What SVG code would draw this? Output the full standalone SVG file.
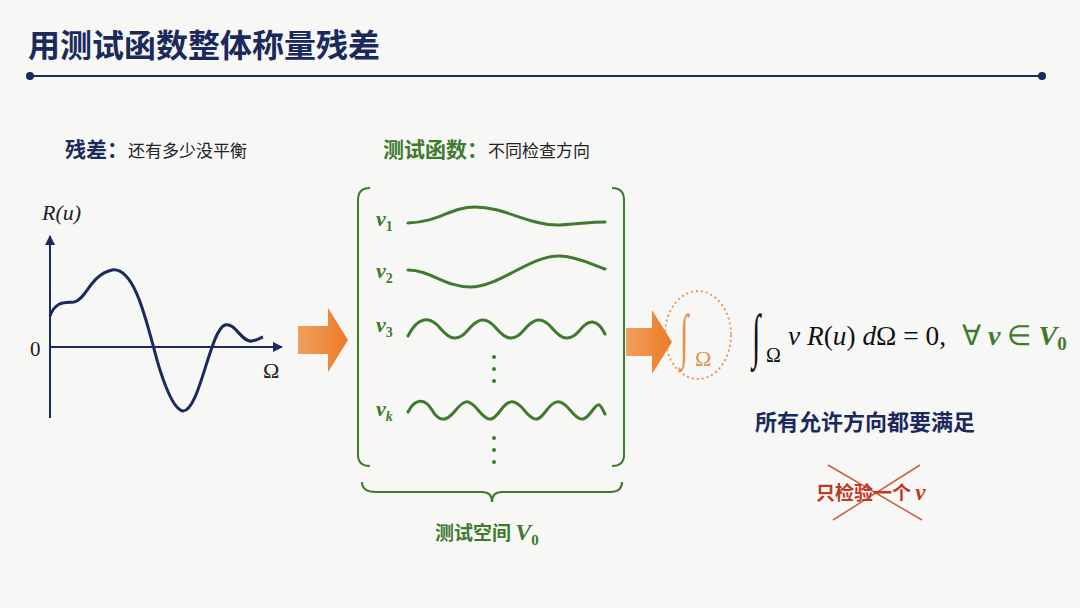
<svg xmlns="http://www.w3.org/2000/svg" width="1080" height="608" viewBox="0 0 1080 608">
<style>
.cn{font-family:"Noto Sans CJK SC","Noto Sans",sans-serif;font-weight:bold}
.m{font-family:"Liberation Serif",serif;font-style:italic}
.r{font-family:"Liberation Serif",serif}
.g{fill:#3f7a2e}
.w{fill:none;stroke:#3f7a2e;stroke-width:3;stroke-linecap:round}
.nv{fill:#1b2a5c}
</style>
<defs>
<marker id="ah" viewBox="0 0 10 10" refX="9" refY="5" markerWidth="5" markerHeight="5" orient="auto"><path d="M0,0L10,5L0,10z" fill="#1b2a5c"/></marker>
<linearGradient id="og" x1="0" x2="1"><stop offset="0" stop-color="#f0a060"/><stop offset="1" stop-color="#ec7a25"/></linearGradient>
</defs>
<rect width="1080" height="608" fill="#f7f7f6"/>
<g id="title">
<text x="28" y="57" class="cn nv" font-size="32">用测试函数整体称量残差</text>
<line x1="30" y1="76" x2="1042" y2="76" stroke="#1b2a5c" stroke-width="2"/>
<circle cx="30" cy="76" r="4" fill="#1b2a5c"/><circle cx="1042" cy="76" r="4" fill="#1b2a5c"/>
</g>
<g id="residual">
<text x="65" y="157" class="cn nv" font-size="21">残差：<tspan font-size="17" font-weight="normal" fill="#222">还有多少没平衡</tspan></text>
<text x="42" y="220" class="m" font-size="22" fill="#222">R(u)</text>
<line x1="50" y1="418" x2="50" y2="236" stroke="#1b2a5c" stroke-width="2" marker-end="url(#ah)"/>
<line x1="50" y1="347" x2="282" y2="347" stroke="#1b2a5c" stroke-width="2" marker-end="url(#ah)"/>
<text x="30" y="356" class="r" font-size="21" fill="#222">0</text>
<text x="263" y="378" class="r" font-size="22" fill="#222">Ω</text>
<path d="M50,316 C56,300 66,303 74,302 C86,300 90,275 112,270 C138,266 150,340 160,370 C168,395 176,410 183,411 C200,410 210,330 225,325 C235,322 242,343 252,341 C257,340 260,338 263,337" fill="none" stroke="#1b2a5c" stroke-width="3"/>
</g>
<path d="M298,326 h30 v-18 l20,32 l-20,32 v-18 h-30z" fill="url(#og)"/>
<g id="testfuncs">
<text x="383" y="157" class="cn g" font-size="21">测试函数：<tspan font-size="17" font-weight="normal" fill="#222">不同检查方向</tspan></text>
<path d="M370,188 Q358,188 358,200 V455 Q358,466 370,466" fill="none" stroke="#3f7a2e" stroke-width="2"/>
<path d="M612,188 Q624,188 624,200 V455 Q624,466 612,466" fill="none" stroke="#3f7a2e" stroke-width="2"/>
<text x="376" y="226" class="m g" font-size="22" font-weight="bold">v<tspan font-size="14" dy="5" font-style="normal">1</tspan></text>
<text x="376" y="278" class="m g" font-size="22" font-weight="bold">v<tspan font-size="14" dy="5" font-style="normal">2</tspan></text>
<text x="376" y="332" class="m g" font-size="22" font-weight="bold">v<tspan font-size="14" dy="5" font-style="normal">3</tspan></text>
<text x="376" y="416" class="m g" font-size="22" font-weight="bold">v<tspan font-size="14" dy="5" font-style="italic">k</tspan></text>
<path class="w" d="M408,223 C440,222 450,207 475,207 C505,207 530,226 560,225 C580,224 590,222 605,222"/>
<path class="w" d="M408,270 C430,270 445,287 470,287 C500,287 530,255 560,256 C580,257 595,266 605,269"/>
<path class="w" d="M408,336 C418,316 430,316 440,328 S458,342 468,330 S486,316 496,328 S514,342 524,330 S542,316 552,328 S570,342 580,330 S598,320 605,334"/>
<path class="w" d="M408,412 C415,398 425,398 432,410 S446,422 455,411 S468,398 478,410 S492,422 500,411 S514,398 524,410 S538,422 546,411 S560,398 570,410 S584,422 592,411 S600,405 605,414"/>
<g fill="#3f7a2e"><circle cx="494" cy="357" r="2"/><circle cx="494" cy="369" r="2"/><circle cx="494" cy="381" r="2"/><circle cx="494" cy="438" r="2"/><circle cx="494" cy="450" r="2"/><circle cx="494" cy="462" r="2"/></g>
<path d="M362,482 Q362,492 376,492 H482 Q492,492 492,502 Q492,492 502,492 H610 Q622,492 622,482" fill="none" stroke="#3f7a2e" stroke-width="2"/>
<text x="435" y="540" class="cn g" font-size="19">测试空间 <tspan class="m" font-size="24">V</tspan><tspan class="r" font-size="15" dy="5">0</tspan></text>
</g>
<path d="M626,328 h26 v-18 l20,32 l-20,32 v-18 h-26z" fill="url(#og)"/>
<g id="integral">
<ellipse cx="698" cy="335" rx="33" ry="44" fill="none" stroke="#e8904a" stroke-width="1.8" stroke-dasharray="2 3"/>
<text class="r" font-size="30" fill="#e8904a" transform="translate(680,356) scale(1,2)">∫</text>
<text x="695" y="366" class="r" font-size="22" fill="#e8904a">Ω</text>
</g>
<g id="formula">
<text class="r" font-size="30" fill="#111" transform="translate(752,356) scale(1,2)">∫</text>
<text x="766" y="362" class="r" font-size="20" fill="#111">Ω</text>
<text x="788" y="345" class="r" font-size="28" fill="#111" textLength="158" lengthAdjust="spacingAndGlyphs"><tspan font-style="italic">v R</tspan>(<tspan font-style="italic">u</tspan>) <tspan font-style="italic">d</tspan>Ω = 0,</text>
<text x="962" y="345" class="r" font-size="28" fill="#3f7a2e">∀ <tspan font-style="italic" font-weight="bold">v</tspan> ∈ <tspan font-style="italic" font-weight="bold">V</tspan><tspan font-size="19" dy="5" font-weight="bold">0</tspan></text>
<text x="755" y="430" class="cn nv" font-size="22">所有允许方向都要满足</text>
</g>
<g id="notone">
<text x="816" y="500" class="cn" font-size="19" fill="#c0391f">只检验一个 <tspan class="m" font-size="23">v</tspan></text>
<line x1="828" y1="465" x2="922" y2="520" stroke="#c0391f" stroke-width="1.5" opacity="0.8"/>
<line x1="920" y1="465" x2="833" y2="520" stroke="#c0391f" stroke-width="1.5" opacity="0.8"/>
</g>
</svg>
